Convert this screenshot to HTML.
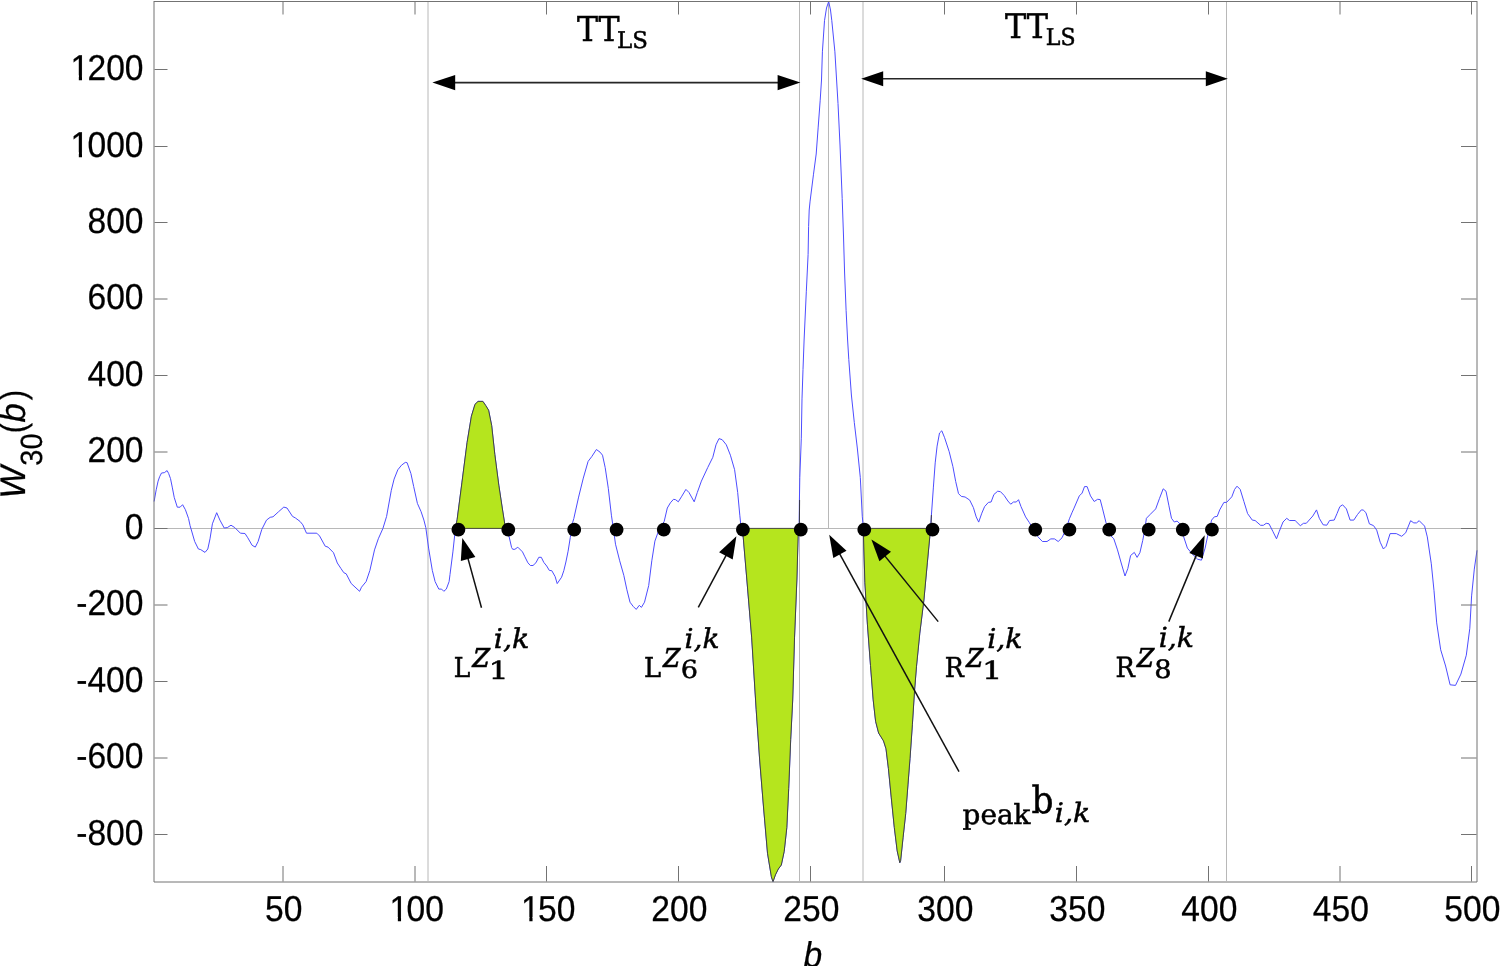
<!DOCTYPE html>
<html><head><meta charset="utf-8"><title>W30(b)</title>
<style>
html,body{margin:0;padding:0;background:#fff;width:1500px;height:966px;overflow:hidden}
svg{display:block} text{text-rendering:geometricPrecision}
.tk{font-family:"Liberation Sans",Arial,sans-serif;fill:#000;stroke:#000;stroke-width:0.25px}
.sr{font-family:"Liberation Serif","Times New Roman",serif;fill:#000}
</style></head><body>
<svg width="1500" height="966" viewBox="0 0 1500 966">
<rect width="1500" height="966" fill="#fff"/>
<line x1="428" y1="2" x2="428" y2="881" stroke="#b8b8b8" stroke-width="1"/>
<line x1="799.5" y1="2" x2="799.5" y2="881" stroke="#b8b8b8" stroke-width="1"/>
<line x1="828.5" y1="2" x2="828.5" y2="528" stroke="#b8b8b8" stroke-width="1"/>
<line x1="863" y1="2" x2="863" y2="881" stroke="#b8b8b8" stroke-width="1"/>
<line x1="1226.5" y1="2" x2="1226.5" y2="881" stroke="#b8b8b8" stroke-width="1"/>
<line x1="154" y1="528.5" x2="1477" y2="528.5" stroke="#b8b8b8" stroke-width="1"/>
<polyline points="154.1,501.5 156.2,489.8 158.1,481.1 159.6,476.8 161.5,473.0 164.3,472.7 167.1,470.6 168.6,473.4 170.5,478.6 172.4,487.9 174.2,497.3 177.3,507.2 180.1,507.2 182.6,504.7 185.4,509.7 188.5,518.4 190.1,525.7 194.7,541.5 198.4,549.0 200.7,549.6 205.0,552.4 207.8,549.0 210.0,538.8 212.4,523.8 216.7,512.7 219.9,520.1 224.2,528.0 227.3,527.6 231.0,525.2 234.8,527.6 240.4,533.2 245.0,533.5 247.8,537.8 252.1,545.3 255.3,547.1 258.1,541.5 261.8,529.4 266.5,520.1 270.2,517.3 273.0,516.8 278.6,511.7 283.8,507.1 287.0,508.0 292.5,516.4 295.3,517.9 300.0,521.4 302.8,524.8 306.5,533.2 316.8,533.2 319.6,536.0 325.2,546.2 328.0,547.1 333.5,552.7 337.3,563.0 341.0,568.6 343.8,572.7 346.2,573.8 351.2,583.5 359.6,591.3 361.5,587.2 366.1,581.6 369.9,570.4 374.5,549.9 378.3,538.8 382.9,528.5 386.6,516.4 391.3,490.3 394.1,479.1 397.8,469.8 401.5,465.2 405.3,462.4 407.1,462.7 410.9,473.5 413.7,486.6 417.4,503.4 421.1,511.7 423.9,520.1 425.8,527.6 428.6,548.1 432.3,570.4 435.1,581.6 438.8,589.1 441.6,589.1 443.8,591.3 446.3,589.1 449.1,581.6 450.0,574.5 452.9,551.9 455.2,530.5 457.1,519.8 461.9,482.9 467.1,442.4 471.4,416.2 475.0,404.3 478.1,401.4 482.9,401.4 485.7,405.5 488.6,410.2 491.7,425.7 494.8,454.3 498.8,485.2 502.4,509.0 505.2,526.9 509.1,536.7 511.6,547.5 512.7,549.3 514.9,549.3 517.8,547.2 522.5,551.9 524.6,556.2 527.9,562.8 530.4,565.5 533.0,565.5 535.9,562.8 538.8,557.3 541.3,557.3 543.8,562.4 546.7,566.0 549.3,570.4 551.8,570.7 555.1,576.5 557.2,583.6 561.6,577.2 563.8,570.7 565.9,562.0 568.1,551.2 570.3,537.4 572.5,522.9 573.8,518.6 578.6,497.1 583.3,478.1 588.1,461.4 591.7,456.7 596.4,449.5 600.0,452.1 602.5,455.2 605.2,467.6 608.3,488.3 611.4,515.2 613.5,529.7 615.5,544.2 619.7,560.8 623.8,575.3 626.9,589.8 630.0,602.2 633.1,606.3 636.2,609.4 639.3,605.3 641.4,607.4 644.5,602.2 648.7,585.6 651.8,560.8 654.9,541.1 659.0,529.7 664.2,521.4 667.3,508.0 670.4,502.8 673.5,499.3 675.6,499.7 678.3,501.8 681.8,496.2 685.9,489.4 689.0,492.5 694.2,501.8 697.3,492.5 701.4,481.1 707.7,467.6 712.8,457.3 716.0,444.8 719.0,438.6 722.2,439.7 726.3,444.8 730.4,455.2 734.6,469.7 737.7,492.5 739.8,515.2 741.2,528.7 742.5,528.8 746.8,579.0 751.7,637.9 756.2,709.8 759.6,759.0 763.6,808.0 767.5,853.2 771.4,876.8 773.0,881.7 775.4,874.9 778.3,869.0 781.3,865.0 784.2,851.3 786.8,827.7 788.7,788.4 790.7,739.3 792.7,700.0 794.5,637.9 796.9,579.0 798.3,528.8 799.2,522.7 799.4,501.0 799.8,477.5 801.3,438.2 802.0,398.9 803.0,369.5 804.1,340.0 806.3,291.8 808.1,254.5 808.6,226.6 809.2,210.0 810.1,201.1 813.5,174.2 816.2,154.0 818.2,127.1 820.2,100.2 821.5,80.0 822.4,51.8 824.5,20.7 826.5,8.0 828.7,1.5 830.5,10.0 831.8,20.7 834.9,51.8 838.0,103.5 840.0,145.0 842.2,198.6 843.5,236.0 844.6,273.0 846.1,310.4 847.6,340.0 848.8,359.6 851.4,395.0 854.3,422.5 857.3,448.0 860.3,477.5 862.3,516.8 863.1,524.7 863.3,529.0 864.9,582.8 867.4,624.1 870.5,665.5 873.2,699.9 875.6,721.3 878.6,733.0 883.5,740.9 886.0,748.8 888.4,768.4 891.3,797.9 894.3,827.4 897.2,850.9 899.8,862.7 900.6,860.7 903.1,837.2 905.7,813.6 908.0,784.1 910.0,758.6 912.4,724.2 914.5,691.1 916.5,666.2 919.8,633.1 923.9,600.0 927.4,562.1 930.5,529.0 931.4,515.3 933.4,487.1 935.2,462.9 937.1,446.1 939.5,433.0 941.8,430.8 944.6,437.7 949.2,451.7 952.9,466.6 955.7,481.5 958.5,493.6 961.3,496.4 965.1,497.0 969.7,500.1 973.4,507.6 976.2,516.9 978.7,522.1 981.8,513.2 984.6,506.6 988.4,502.4 991.1,502.0 993.9,494.5 997.7,491.2 1000.5,491.7 1004.2,495.5 1007.9,501.0 1010.7,504.2 1013.5,502.0 1016.3,502.0 1018.5,499.7 1021.0,506.6 1025.6,516.9 1029.3,522.5 1033.1,529.0 1037.7,536.5 1042.4,541.5 1047.0,541.5 1050.8,538.9 1054.5,538.9 1058.2,541.5 1062.0,537.8 1065.7,529.9 1069.4,518.8 1072.2,512.2 1073.7,508.9 1079.3,495.9 1082.1,493.1 1084.5,486.6 1087.1,486.6 1090.5,495.9 1094.2,501.5 1097.6,499.3 1100.2,499.6 1102.6,508.9 1106.3,523.8 1110.1,535.0 1113.8,538.8 1117.5,549.9 1121.2,563.0 1125.0,576.0 1127.8,568.6 1130.6,555.5 1134.3,552.4 1137.1,557.4 1139.9,552.7 1142.7,540.6 1144.5,531.3 1146.4,518.3 1150.1,514.5 1155.7,508.9 1159.4,498.7 1163.2,488.8 1166.0,491.2 1168.8,505.2 1171.5,518.3 1174.3,522.0 1177.1,521.1 1180.9,524.8 1183.7,536.9 1187.4,548.1 1192.0,553.7 1197.6,559.2 1201.4,560.2 1205.1,548.1 1207.9,535.0 1211.6,520.1 1214.4,516.8 1217.2,516.4 1219.7,509.9 1223.9,502.4 1226.6,502.4 1231.8,496.8 1234.6,489.4 1237.0,486.2 1240.2,489.4 1243.9,501.5 1247.6,513.6 1252.3,520.1 1255.1,520.5 1260.6,525.3 1263.4,525.3 1266.2,523.3 1269.0,523.8 1272.8,531.3 1276.5,538.8 1279.3,531.3 1283.0,522.0 1286.7,518.3 1289.5,520.5 1295.1,520.5 1300.3,525.7 1303.5,523.3 1306.3,523.3 1312.8,516.0 1316.5,509.9 1319.3,518.3 1323.1,524.8 1326.8,525.2 1329.6,520.5 1334.2,520.1 1337.0,513.6 1339.8,506.7 1342.6,504.8 1346.4,508.9 1350.1,520.1 1353.8,520.1 1357.5,514.5 1361.3,509.9 1363.2,510.0 1365.9,512.6 1369.4,523.9 1373.5,525.6 1376.7,530.1 1380.2,542.2 1383.4,549.0 1386.1,546.3 1390.1,533.6 1396.3,533.6 1401.7,536.3 1405.7,532.8 1410.6,520.7 1413.8,522.9 1416.5,522.9 1419.2,520.7 1424.6,526.1 1427.3,536.9 1431.3,563.8 1434.0,590.7 1436.7,622.9 1440.7,649.8 1445.6,666.0 1450.1,684.8 1455.5,685.4 1460.9,674.1 1466.3,655.2 1469.8,628.3 1471.6,595.9 1474.3,569.1 1477.0,550.3" fill="none" stroke="#4d4dff" stroke-width="1" stroke-linejoin="round"/>
<line x1="799.6" y1="500" x2="799.4" y2="523" stroke="#333" stroke-width="0.9"/>
<line x1="931.4" y1="515" x2="931.1" y2="523" stroke="#333" stroke-width="0.9"/>
<polygon points="455.5,528.4 457.1,519.8 461.9,482.9 467.1,442.4 471.4,416.2 475.0,404.3 478.1,401.4 482.9,401.4 485.7,405.5 488.6,410.2 491.7,425.7 494.8,454.3 498.8,485.2 502.4,509.0 505.2,526.9 505.6,528.4" fill="#b5e51e" stroke="#3a3a3a" stroke-width="0.9" stroke-linejoin="round"/>
<polygon points="742.3,528.4 742.5,528.8 746.8,579.0 751.7,637.9 756.2,709.8 759.6,759.0 763.6,808.0 767.5,853.2 771.4,876.8 773.0,881.7 775.4,874.9 778.3,869.0 781.3,865.0 784.2,851.3 786.8,827.7 788.7,788.4 790.7,739.3 792.7,700.0 794.5,637.9 796.9,579.0 798.3,528.8 798.6,528.4" fill="#b5e51e" stroke="#3a3a3a" stroke-width="0.9" stroke-linejoin="round"/>
<polygon points="863.2,528.4 863.3,529.0 864.9,582.8 867.4,624.1 870.5,665.5 873.2,699.9 875.6,721.3 878.6,733.0 883.5,740.9 886.0,748.8 888.4,768.4 891.3,797.9 894.3,827.4 897.2,850.9 899.8,862.7 900.6,860.7 903.1,837.2 905.7,813.6 908.0,784.1 910.0,758.6 912.4,724.2 914.5,691.1 916.5,666.2 919.8,633.1 923.9,600.0 927.4,562.1 930.5,529.0 930.8,528.4" fill="#b5e51e" stroke="#3a3a3a" stroke-width="0.9" stroke-linejoin="round"/>
<line x1="154" y1="1.5" x2="1477" y2="1.5" stroke="#737373" stroke-width="1"/>
<line x1="154" y1="1" x2="154" y2="882" stroke="#737373" stroke-width="1"/>
<line x1="1477" y1="1" x2="1477" y2="882" stroke="#737373" stroke-width="1"/>
<line x1="154" y1="882" x2="1477" y2="882" stroke="#737373" stroke-width="1"/>
<line x1="283.0" y1="866" x2="283.0" y2="881.5" stroke="#737373" stroke-width="1"/>
<line x1="283.0" y1="2" x2="283.0" y2="14.5" stroke="#737373" stroke-width="1"/>
<line x1="415.0" y1="866" x2="415.0" y2="881.5" stroke="#737373" stroke-width="1"/>
<line x1="415.0" y1="2" x2="415.0" y2="14.5" stroke="#737373" stroke-width="1"/>
<line x1="546.5" y1="866" x2="546.5" y2="881.5" stroke="#737373" stroke-width="1"/>
<line x1="546.5" y1="2" x2="546.5" y2="14.5" stroke="#737373" stroke-width="1"/>
<line x1="678.5" y1="866" x2="678.5" y2="881.5" stroke="#737373" stroke-width="1"/>
<line x1="678.5" y1="2" x2="678.5" y2="14.5" stroke="#737373" stroke-width="1"/>
<line x1="810.5" y1="866" x2="810.5" y2="881.5" stroke="#737373" stroke-width="1"/>
<line x1="810.5" y1="2" x2="810.5" y2="14.5" stroke="#737373" stroke-width="1"/>
<line x1="944.5" y1="866" x2="944.5" y2="881.5" stroke="#737373" stroke-width="1"/>
<line x1="944.5" y1="2" x2="944.5" y2="14.5" stroke="#737373" stroke-width="1"/>
<line x1="1076.5" y1="866" x2="1076.5" y2="881.5" stroke="#737373" stroke-width="1"/>
<line x1="1076.5" y1="2" x2="1076.5" y2="14.5" stroke="#737373" stroke-width="1"/>
<line x1="1208.5" y1="866" x2="1208.5" y2="881.5" stroke="#737373" stroke-width="1"/>
<line x1="1208.5" y1="2" x2="1208.5" y2="14.5" stroke="#737373" stroke-width="1"/>
<line x1="1340.0" y1="866" x2="1340.0" y2="881.5" stroke="#737373" stroke-width="1"/>
<line x1="1340.0" y1="2" x2="1340.0" y2="14.5" stroke="#737373" stroke-width="1"/>
<line x1="1471.5" y1="866" x2="1471.5" y2="881.5" stroke="#737373" stroke-width="1"/>
<line x1="1471.5" y1="2" x2="1471.5" y2="14.5" stroke="#737373" stroke-width="1"/>
<line x1="154.5" y1="69.5" x2="167.5" y2="69.5" stroke="#737373" stroke-width="1"/>
<line x1="1461" y1="69.5" x2="1476.5" y2="69.5" stroke="#737373" stroke-width="1"/>
<line x1="154.5" y1="146.5" x2="167.5" y2="146.5" stroke="#737373" stroke-width="1"/>
<line x1="1461" y1="146.5" x2="1476.5" y2="146.5" stroke="#737373" stroke-width="1"/>
<line x1="154.5" y1="222.5" x2="167.5" y2="222.5" stroke="#737373" stroke-width="1"/>
<line x1="1461" y1="222.5" x2="1476.5" y2="222.5" stroke="#737373" stroke-width="1"/>
<line x1="154.5" y1="299.0" x2="167.5" y2="299.0" stroke="#737373" stroke-width="1"/>
<line x1="1461" y1="299.0" x2="1476.5" y2="299.0" stroke="#737373" stroke-width="1"/>
<line x1="154.5" y1="375.5" x2="167.5" y2="375.5" stroke="#737373" stroke-width="1"/>
<line x1="1461" y1="375.5" x2="1476.5" y2="375.5" stroke="#737373" stroke-width="1"/>
<line x1="154.5" y1="452.0" x2="167.5" y2="452.0" stroke="#737373" stroke-width="1"/>
<line x1="1461" y1="452.0" x2="1476.5" y2="452.0" stroke="#737373" stroke-width="1"/>
<line x1="154.5" y1="528.5" x2="167.5" y2="528.5" stroke="#737373" stroke-width="1"/>
<line x1="1461" y1="528.5" x2="1476.5" y2="528.5" stroke="#737373" stroke-width="1"/>
<line x1="154.5" y1="605.0" x2="167.5" y2="605.0" stroke="#737373" stroke-width="1"/>
<line x1="1461" y1="605.0" x2="1476.5" y2="605.0" stroke="#737373" stroke-width="1"/>
<line x1="154.5" y1="681.5" x2="167.5" y2="681.5" stroke="#737373" stroke-width="1"/>
<line x1="1461" y1="681.5" x2="1476.5" y2="681.5" stroke="#737373" stroke-width="1"/>
<line x1="154.5" y1="758.0" x2="167.5" y2="758.0" stroke="#737373" stroke-width="1"/>
<line x1="1461" y1="758.0" x2="1476.5" y2="758.0" stroke="#737373" stroke-width="1"/>
<line x1="154.5" y1="834.5" x2="167.5" y2="834.5" stroke="#737373" stroke-width="1"/>
<line x1="1461" y1="834.5" x2="1476.5" y2="834.5" stroke="#737373" stroke-width="1"/>
<text class="tk" transform="translate(283.80,921.30) scale(0.936,1)" font-size="35.9" text-anchor="middle">50</text>
<text class="tk" transform="translate(415.80,921.30) scale(0.936,1)" font-size="35.9" x="-27.97 -9.98 9.98" y="0" clip-path="url(#c1_0)">100</text>
<text class="tk" transform="translate(547.30,921.30) scale(0.936,1)" font-size="35.9" x="-27.97 -9.98 9.98" y="0" clip-path="url(#c1_1)">150</text>
<text class="tk" transform="translate(679.30,921.30) scale(0.936,1)" font-size="35.9" text-anchor="middle">200</text>
<text class="tk" transform="translate(811.30,921.30) scale(0.936,1)" font-size="35.9" text-anchor="middle">250</text>
<text class="tk" transform="translate(945.30,921.30) scale(0.936,1)" font-size="35.9" text-anchor="middle">300</text>
<text class="tk" transform="translate(1077.30,921.30) scale(0.936,1)" font-size="35.9" text-anchor="middle">350</text>
<text class="tk" transform="translate(1209.30,921.30) scale(0.936,1)" font-size="35.9" text-anchor="middle">400</text>
<text class="tk" transform="translate(1340.80,921.30) scale(0.936,1)" font-size="35.9" text-anchor="middle">450</text>
<text class="tk" transform="translate(1472.30,921.30) scale(0.936,1)" font-size="35.9" text-anchor="middle">500</text>
<text class="tk" transform="translate(143.50,79.60) scale(0.936,1)" font-size="35.9" x="-77.89 -59.90 -39.93 -19.97" y="0" clip-path="url(#c1_2)">1200</text>
<text class="tk" transform="translate(143.50,156.60) scale(0.936,1)" font-size="35.9" x="-77.89 -59.90 -39.93 -19.97" y="0" clip-path="url(#c1_3)">1000</text>
<text class="tk" transform="translate(143.50,232.60) scale(0.936,1)" font-size="35.9" text-anchor="end">800</text>
<text class="tk" transform="translate(143.50,309.10) scale(0.936,1)" font-size="35.9" text-anchor="end">600</text>
<text class="tk" transform="translate(143.50,385.60) scale(0.936,1)" font-size="35.9" text-anchor="end">400</text>
<text class="tk" transform="translate(143.50,462.10) scale(0.936,1)" font-size="35.9" text-anchor="end">200</text>
<text class="tk" transform="translate(143.50,538.60) scale(0.936,1)" font-size="35.9" text-anchor="end">0</text>
<text class="tk" transform="translate(143.50,615.10) scale(0.936,1)" font-size="35.9" text-anchor="end">-200</text>
<text class="tk" transform="translate(143.50,691.60) scale(0.936,1)" font-size="35.9" text-anchor="end">-400</text>
<text class="tk" transform="translate(143.50,768.10) scale(0.936,1)" font-size="35.9" text-anchor="end">-600</text>
<text class="tk" transform="translate(143.50,844.60) scale(0.936,1)" font-size="35.9" text-anchor="end">-800</text>
<defs><clipPath id="c1_0" clipPathUnits="userSpaceOnUse"><rect x="-500" y="-71.80" width="1000" height="67.49"/><rect x="-19.18" y="-5.38" width="3.41" height="7.18"/><rect x="-8.91" y="-5.38" width="500" height="16.16"/></clipPath><clipPath id="c1_1" clipPathUnits="userSpaceOnUse"><rect x="-500" y="-71.80" width="1000" height="67.49"/><rect x="-19.18" y="-5.38" width="3.41" height="7.18"/><rect x="-8.91" y="-5.38" width="500" height="16.16"/></clipPath><clipPath id="c1_2" clipPathUnits="userSpaceOnUse"><rect x="-500" y="-71.80" width="1000" height="67.49"/><rect x="-69.09" y="-5.38" width="3.41" height="7.18"/><rect x="-58.82" y="-5.38" width="500" height="16.16"/></clipPath><clipPath id="c1_3" clipPathUnits="userSpaceOnUse"><rect x="-500" y="-71.80" width="1000" height="67.49"/><rect x="-69.09" y="-5.38" width="3.41" height="7.18"/><rect x="-58.82" y="-5.38" width="500" height="16.16"/></clipPath></defs>
<text class="tk" transform="translate(812.8,966.7) scale(0.936,1)" font-size="35.9" text-anchor="middle" font-style="italic">b</text>
<g transform="rotate(-90)">
<text transform="translate(-498.64,25.30) scale(0.969,1)" font-family="Liberation Sans" font-size="35.65" font-style="italic" stroke="#000" stroke-width="0.25">W</text>
<text transform="translate(-465.66,41.69) scale(0.944,1)" font-family="Liberation Sans" font-size="30.70" stroke="#000" stroke-width="0.25">30</text>
<text transform="translate(-433.62,25.30) scale(0.904,1)" font-family="Liberation Sans" font-size="35.50" stroke="#000" stroke-width="0.25">(</text>
<text transform="translate(-422.52,25.30) scale(0.972,1)" font-family="Liberation Sans" font-size="35.50" font-style="italic" stroke="#000" stroke-width="0.25">b</text>
<text transform="translate(-400.26,25.30) scale(0.882,1)" font-family="Liberation Sans" font-size="35.50" stroke="#000" stroke-width="0.25">)</text>
</g>
<circle cx="458.4" cy="529.7" r="6.9" fill="#000"/>
<circle cx="508.3" cy="529.7" r="6.9" fill="#000"/>
<circle cx="574.2" cy="529.7" r="6.9" fill="#000"/>
<circle cx="616.6" cy="529.7" r="6.9" fill="#000"/>
<circle cx="663.8" cy="529.7" r="6.9" fill="#000"/>
<circle cx="742.9" cy="529.7" r="6.9" fill="#000"/>
<circle cx="800.8" cy="529.7" r="6.9" fill="#000"/>
<circle cx="864.3" cy="529.7" r="6.9" fill="#000"/>
<circle cx="932.5" cy="529.7" r="6.9" fill="#000"/>
<circle cx="1035.3" cy="529.7" r="6.9" fill="#000"/>
<circle cx="1069.4" cy="529.7" r="6.9" fill="#000"/>
<circle cx="1109.2" cy="529.7" r="6.9" fill="#000"/>
<circle cx="1148.7" cy="529.7" r="6.9" fill="#000"/>
<circle cx="1182.8" cy="529.7" r="6.9" fill="#000"/>
<circle cx="1211.9" cy="529.7" r="6.9" fill="#000"/>
<line x1="481.5" y1="607.8" x2="467.6" y2="557.1" stroke="#111" stroke-width="1.5"/><polygon points="462.3,537.9 475.4,557.0 460.8,561.0" fill="#000"/>
<line x1="698.3" y1="607.4" x2="726.8" y2="554.1" stroke="#111" stroke-width="1.5"/><polygon points="736.4,536.2 732.7,559.5 719.1,552.2" fill="#000"/>
<line x1="938.2" y1="621.6" x2="884.0" y2="554.9" stroke="#111" stroke-width="1.5"/><polygon points="871.4,539.5 891.0,551.8 879.4,561.2" fill="#000"/>
<line x1="959.0" y1="771.7" x2="839.0" y2="552.6" stroke="#111" stroke-width="1.5"/><polygon points="829.2,534.8 846.5,550.8 833.3,558.0" fill="#000"/>
<line x1="1168.8" y1="621.6" x2="1196.9" y2="553.9" stroke="#111" stroke-width="1.5"/><polygon points="1204.7,535.2 1202.9,558.6 1189.4,553.0" fill="#000"/>
<line x1="453.2" y1="82.6" x2="779.6" y2="82.6" stroke="#262626" stroke-width="1.6"/><polygon points="432.4,82.6 455.2,75.0 455.2,90.19999999999999" fill="#000"/><polygon points="800.4,82.6 777.6,75.0 777.6,90.19999999999999" fill="#000"/>
<line x1="881.2" y1="78.7" x2="1207.8" y2="78.7" stroke="#262626" stroke-width="1.6"/><polygon points="861.2,78.7 883.2,71.25 883.2,86.15" fill="#000"/><polygon points="1227.8,78.7 1205.8,71.25 1205.8,86.15" fill="#000"/>
<text transform="translate(576.90,40.95) scale(1.020,1)" font-family="DejaVu Serif Condensed" font-size="34.38" stroke="#000" stroke-width="0.50">TT</text>
<text transform="translate(616.99,48.20) scale(0.993,1)" font-family="DejaVu Serif" font-size="23.03" stroke="#000" stroke-width="0.50">LS</text>
<text transform="translate(1004.90,38.05) scale(1.040,1)" font-family="DejaVu Serif Condensed" font-size="33.97" stroke="#000" stroke-width="0.50">TT</text>
<text transform="translate(1045.74,45.40) scale(0.952,1)" font-family="DejaVu Serif" font-size="23.16" stroke="#000" stroke-width="0.50">LS</text>
<text transform="translate(453.87,677.25) scale(1.008,1)" font-family="DejaVu Serif Condensed" font-size="27.40" stroke="#000" stroke-width="0.50">L</text>
<text transform="translate(470.32,667.45) scale(0.907,1) skewX(-14)" font-family="DejaVu Serif" font-size="36.54" stroke="#000" stroke-width="0.50">z</text>
<text transform="translate(488.44,678.55) scale(1.264,1)" font-family="DejaVu Serif" font-size="25.10" stroke="#000" stroke-width="0.50">1</text>
<text transform="translate(493.82,648.00) scale(1.049,1)" font-family="DejaVu Serif" font-size="27.30" font-style="italic" stroke="#000" stroke-width="0.50">i,k</text>
<text transform="translate(644.02,677.25) scale(1.043,1)" font-family="DejaVu Serif Condensed" font-size="27.40" stroke="#000" stroke-width="0.50">L</text>
<text transform="translate(661.04,667.45) scale(0.893,1) skewX(-14)" font-family="DejaVu Serif" font-size="36.54" stroke="#000" stroke-width="0.50">z</text>
<text transform="translate(680.69,678.48) scale(1.082,1)" font-family="DejaVu Serif" font-size="25.00" stroke="#000" stroke-width="0.50">6</text>
<text transform="translate(684.54,648.00) scale(1.029,1)" font-family="DejaVu Serif" font-size="27.30" font-style="italic" stroke="#000" stroke-width="0.50">i,k</text>
<text transform="translate(944.64,677.25) scale(1.028,1)" font-family="DejaVu Serif Condensed" font-size="27.40" stroke="#000" stroke-width="0.50">R</text>
<text transform="translate(963.94,667.45) scale(0.893,1) skewX(-14)" font-family="DejaVu Serif" font-size="36.54" stroke="#000" stroke-width="0.50">z</text>
<text transform="translate(981.91,678.55) scale(1.275,1)" font-family="DejaVu Serif" font-size="25.10" stroke="#000" stroke-width="0.50">1</text>
<text transform="translate(987.23,648.00) scale(1.042,1)" font-family="DejaVu Serif" font-size="27.30" font-style="italic" stroke="#000" stroke-width="0.50">i,k</text>
<text transform="translate(1115.53,676.75) scale(1.029,1)" font-family="DejaVu Serif Condensed" font-size="27.67" stroke="#000" stroke-width="0.50">R</text>
<text transform="translate(1134.84,666.55) scale(0.893,1) skewX(-14)" font-family="DejaVu Serif" font-size="36.73" stroke="#000" stroke-width="0.50">z</text>
<text transform="translate(1154.27,677.97) scale(1.076,1)" font-family="DejaVu Serif" font-size="25.39" stroke="#000" stroke-width="0.50">8</text>
<text transform="translate(1158.74,647.20) scale(1.021,1)" font-family="DejaVu Serif" font-size="27.70" font-style="italic" stroke="#000" stroke-width="0.50">i,k</text>
<text transform="translate(962.61,823.80) scale(1.007,1)" font-family="DejaVu Serif" font-size="27.70" stroke="#000" stroke-width="0.50">peak</text>
<text transform="translate(1031.59,812.89) scale(1.021,1)" font-family="DejaVu Serif Condensed" font-size="37.42" stroke="#000" stroke-width="0.50">b</text>
<text transform="translate(1054.82,821.90) scale(1.066,1)" font-family="DejaVu Serif" font-size="26.78" font-style="italic" stroke="#000" stroke-width="0.50">i,k</text>
</svg></body></html>
